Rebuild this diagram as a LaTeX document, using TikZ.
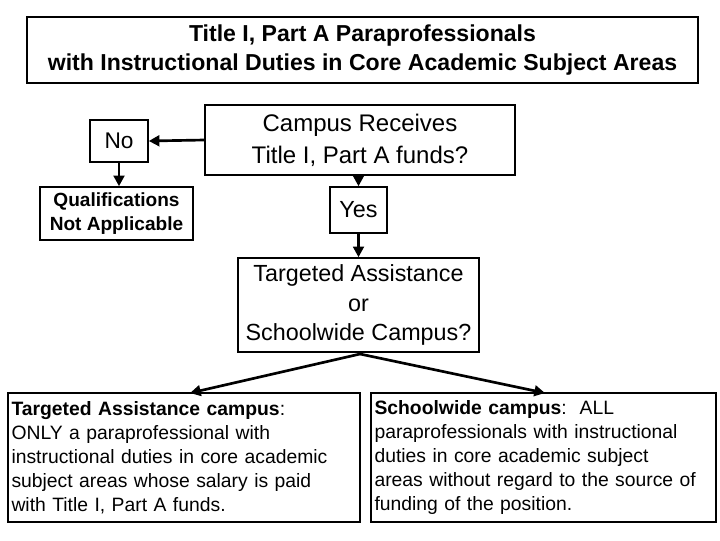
\documentclass[tikz,border=0pt]{standalone}
\usepackage{fontspec}
\setmainfont{Liberation Sans}
\usetikzlibrary{arrows.meta}
\begin{document}
\begin{tikzpicture}[x=0.75pt,y=-0.75pt,
  box/.style={draw,line width=1.1pt,inner sep=0pt,align=center},
  arr/.style={line width=2pt,-{Triangle[length=8pt,width=8pt]}}]
\useasboundingbox (0,0) rectangle (720,540);
\node[box,minimum width=671*0.75pt,minimum height=66*0.75pt,font=\fontsize{17.3}{22}\selectfont\bfseries] (title) at (362.5,50) {Title I, Part A Paraprofessionals\\with Instructional Duties in Core Academic Subject Areas};
\node[box,minimum width=58*0.75pt,minimum height=42*0.75pt,font=\fontsize{17}{20}\selectfont] (no) at (119,141) {No};
\node[box,minimum width=310*0.75pt,minimum height=70*0.75pt,font=\fontsize{18}{24}\selectfont] (campus) at (360,140) {Campus Receives\\Title I, Part A funds?};
\node[box,minimum width=153*0.75pt,minimum height=53*0.75pt,font=\fontsize{14.3}{18}\selectfont\bfseries] (qual) at (116.5,213.5) {Qualifications\\Not Applicable};
\node[box,minimum width=57*0.75pt,minimum height=46*0.75pt,font=\fontsize{17.5}{20}\selectfont] (yes) at (358.5,210) {Yes};
\node[box,minimum width=241*0.75pt,minimum height=94*0.75pt,font=\fontsize{17.5}{22}\selectfont] (ta) at (358.5,305) {Targeted Assistance\\or\\Schoolwide Campus?};
\node[box,minimum width=352*0.75pt,minimum height=129*0.75pt,text width=345*0.75pt,align=left,font=\fontsize{14.5}{18}\selectfont] (left) at (184,457.5) {\textbf{Targeted Assistance campus}:\\ONLY a paraprofessional with\\instructional duties in core academic\\subject areas whose salary is paid\\with Title I, Part A funds.};
\node[box,minimum width=345*0.75pt,minimum height=129*0.75pt,text width=338*0.75pt,align=left,font=\fontsize{14.5}{18}\selectfont] (right) at (543.5,457.5) {\textbf{Schoolwide campus}:\ \ ALL\\paraprofessionals with instructional\\duties in core academic subject\\areas without regard to the source of\\funding of the position.};
\draw[arr] (campus.west) -- (no.east);
\draw[arr] (no.south) -- (qual.north -| no.south);
\draw[arr] (campus.south -| yes.north) -- (yes.north);
\draw[arr] (yes.south) -- (ta.north);
\coordinate (split) at (360,354);
\draw[arr] (split) -- (190,393) coordinate (lt);
\draw[arr] (split) -- (545,393) coordinate (rt);
\end{tikzpicture}
\end{document}
